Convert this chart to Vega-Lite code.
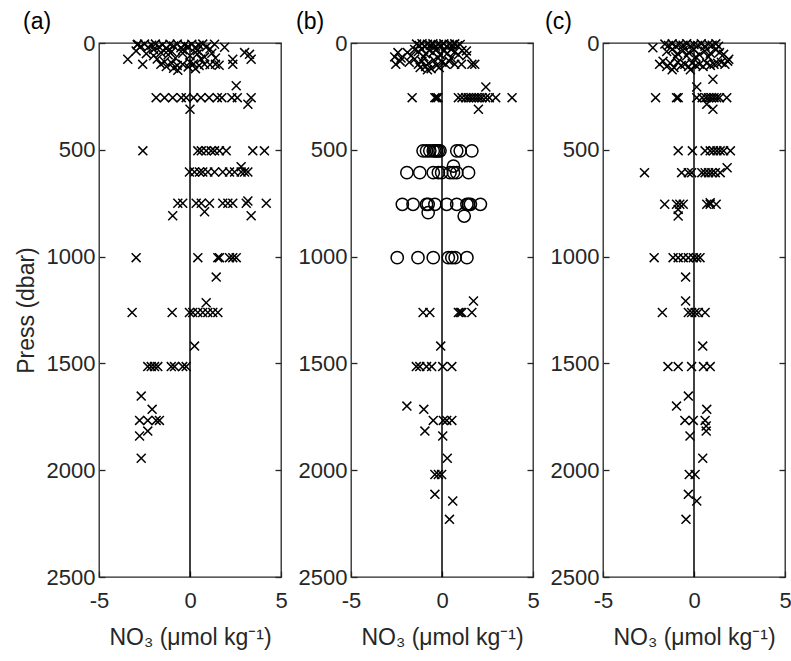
{
  "$schema": "https://vega.github.io/schema/vega-lite/v6.json",
  "background": "white",
  "padding": {"left": 14, "top": 10, "right": 4, "bottom": 4},
  "spacing": 70,
  "bounds": "flush",
  "config": {
    "font": "Liberation Sans",
    "view": {"stroke": "#262626", "strokeWidth": 1.3},
    "axis": {"grid": false, "domain": false, "labelFlush": false, "labelFont": "Liberation Sans", "labelFontSize": 22, "labelColor": "#262626", "titleFont": "Liberation Sans", "titleFontSize": 23, "titleFontWeight": "normal", "titleColor": "#262626", "tickColor": "#262626", "tickSize": -6, "tickWidth": 1.3, "labelExpr": "'' + datum.value"},
    "title": {"font": "Liberation Sans", "fontSize": 23, "fontWeight": "normal", "color": "black"}
  },
  "datasets": {
    "zero": [{"z": 0}],
    "pts": [
      {"p":"a","m":"x","x":-2.9,"y":8},{"p":"a","m":"x","x":-2.7,"y":15},{"p":"a","m":"x","x":-2.5,"y":5},{"p":"a","m":"x","x":-2.3,"y":20},{"p":"a","m":"x","x":-2.1,"y":10},{"p":"a","m":"x","x":-1.9,"y":5},{"p":"a","m":"x","x":-1.7,"y":18},{"p":"a","m":"x","x":-1.5,"y":8},{"p":"a","m":"x","x":-1.3,"y":25},{"p":"a","m":"x","x":-1.1,"y":6},{"p":"a","m":"x","x":-0.9,"y":14},{"p":"a","m":"x","x":-0.7,"y":5},{"p":"a","m":"x","x":-0.5,"y":22},{"p":"a","m":"x","x":-0.3,"y":9},{"p":"a","m":"x","x":-0.1,"y":16},{"p":"a","m":"x","x":0.1,"y":6},{"p":"a","m":"x","x":0.3,"y":20},{"p":"a","m":"x","x":0.5,"y":10},{"p":"a","m":"x","x":0.7,"y":5},{"p":"a","m":"x","x":0.9,"y":18},{"p":"a","m":"x","x":1.1,"y":28},{"p":"a","m":"x","x":-2.0,"y":30},{"p":"a","m":"x","x":-1.2,"y":35},{"p":"a","m":"x","x":-0.4,"y":32},{"p":"a","m":"x","x":0.4,"y":35},
      {"p":"a","m":"x","x":1.35,"y":6},{"p":"a","m":"x","x":1.9,"y":20},{"p":"a","m":"x","x":3.0,"y":45},{"p":"a","m":"x","x":3.27,"y":53},{"p":"a","m":"x","x":3.36,"y":76},{"p":"a","m":"x","x":2.35,"y":76},{"p":"a","m":"x","x":2.35,"y":100},{"p":"a","m":"x","x":-3.42,"y":76},{"p":"a","m":"x","x":-2.6,"y":100},{"p":"a","m":"x","x":-2.96,"y":37},{"p":"a","m":"x","x":-2.87,"y":6},
      {"p":"a","m":"x","x":-2.4,"y":50},{"p":"a","m":"x","x":-2.0,"y":60},{"p":"a","m":"x","x":-1.6,"y":45},{"p":"a","m":"x","x":-1.2,"y":55},{"p":"a","m":"x","x":-0.8,"y":70},{"p":"a","m":"x","x":-0.4,"y":48},{"p":"a","m":"x","x":0.0,"y":60},{"p":"a","m":"x","x":0.4,"y":52},{"p":"a","m":"x","x":0.8,"y":66},{"p":"a","m":"x","x":1.2,"y":48},{"p":"a","m":"x","x":-1.8,"y":75},{"p":"a","m":"x","x":-1.0,"y":40},{"p":"a","m":"x","x":0.6,"y":75},{"p":"a","m":"x","x":1.4,"y":70},
      {"p":"a","m":"x","x":-1.6,"y":100},{"p":"a","m":"x","x":-1.3,"y":110},{"p":"a","m":"x","x":-1.0,"y":95},{"p":"a","m":"x","x":-0.7,"y":105},{"p":"a","m":"x","x":-0.4,"y":100},{"p":"a","m":"x","x":-0.1,"y":112},{"p":"a","m":"x","x":0.2,"y":98},{"p":"a","m":"x","x":0.5,"y":105},{"p":"a","m":"x","x":0.8,"y":100},{"p":"a","m":"x","x":1.1,"y":102},{"p":"a","m":"x","x":1.4,"y":100},{"p":"a","m":"x","x":1.6,"y":104},{"p":"a","m":"x","x":-0.67,"y":128},{"p":"a","m":"x","x":-0.9,"y":118},{"p":"a","m":"x","x":0.3,"y":120},{"p":"a","m":"x","x":-1.4,"y":88},{"p":"a","m":"x","x":0.0,"y":90},
      {"p":"a","m":"x","x":-1.86,"y":256},{"p":"a","m":"x","x":-1.4,"y":256},{"p":"a","m":"x","x":-0.95,"y":256},{"p":"a","m":"x","x":-0.48,"y":256},{"p":"a","m":"x","x":-0.21,"y":256},{"p":"a","m":"x","x":0.2,"y":256},{"p":"a","m":"x","x":0.6,"y":256},{"p":"a","m":"x","x":1.05,"y":256},{"p":"a","m":"x","x":1.5,"y":256},{"p":"a","m":"x","x":1.75,"y":256},{"p":"a","m":"x","x":2.3,"y":256},{"p":"a","m":"x","x":2.6,"y":256},{"p":"a","m":"x","x":3.36,"y":256},{"p":"a","m":"x","x":2.54,"y":200},{"p":"a","m":"x","x":3.18,"y":287},{"p":"a","m":"x","x":0.0,"y":310},
      {"p":"a","m":"x","x":-2.59,"y":505},{"p":"a","m":"x","x":0.43,"y":505},{"p":"a","m":"x","x":0.62,"y":505},{"p":"a","m":"x","x":0.89,"y":505},{"p":"a","m":"x","x":1.16,"y":505},{"p":"a","m":"x","x":1.35,"y":505},{"p":"a","m":"x","x":1.62,"y":505},{"p":"a","m":"x","x":1.99,"y":505},{"p":"a","m":"x","x":3.45,"y":505},{"p":"a","m":"x","x":4.09,"y":505},
      {"p":"a","m":"x","x":-0.03,"y":604},{"p":"a","m":"x","x":0.25,"y":604},{"p":"a","m":"x","x":0.52,"y":604},{"p":"a","m":"x","x":0.7,"y":604},{"p":"a","m":"x","x":0.98,"y":604},{"p":"a","m":"x","x":1.35,"y":604},{"p":"a","m":"x","x":1.8,"y":604},{"p":"a","m":"x","x":2.17,"y":604},{"p":"a","m":"x","x":2.45,"y":604},{"p":"a","m":"x","x":2.81,"y":604},{"p":"a","m":"x","x":3.0,"y":604},{"p":"a","m":"x","x":3.18,"y":604},{"p":"a","m":"x","x":2.81,"y":579},
      {"p":"a","m":"x","x":-0.67,"y":750},{"p":"a","m":"x","x":-0.4,"y":750},{"p":"a","m":"x","x":0.34,"y":750},{"p":"a","m":"x","x":0.62,"y":750},{"p":"a","m":"x","x":1.07,"y":750},{"p":"a","m":"x","x":1.8,"y":750},{"p":"a","m":"x","x":2.08,"y":750},{"p":"a","m":"x","x":2.35,"y":750},{"p":"a","m":"x","x":3.09,"y":750},{"p":"a","m":"x","x":4.19,"y":750},{"p":"a","m":"x","x":-0.95,"y":809},{"p":"a","m":"x","x":0.8,"y":790},{"p":"a","m":"x","x":3.36,"y":809},{"p":"a","m":"x","x":3.18,"y":740},
      {"p":"a","m":"x","x":-2.96,"y":1005},{"p":"a","m":"x","x":0.43,"y":1005},{"p":"a","m":"x","x":1.53,"y":1005},{"p":"a","m":"x","x":1.62,"y":1005},{"p":"a","m":"x","x":2.17,"y":1005},{"p":"a","m":"x","x":2.35,"y":1005},{"p":"a","m":"x","x":2.54,"y":1005},{"p":"a","m":"x","x":1.44,"y":1096},
      {"p":"a","m":"x","x":0.89,"y":1216},{"p":"a","m":"x","x":-3.18,"y":1262},{"p":"a","m":"x","x":-0.98,"y":1262},{"p":"a","m":"x","x":-0.03,"y":1262},{"p":"a","m":"x","x":0.15,"y":1262},{"p":"a","m":"x","x":0.43,"y":1262},{"p":"a","m":"x","x":0.7,"y":1262},{"p":"a","m":"x","x":0.98,"y":1262},{"p":"a","m":"x","x":1.25,"y":1262},{"p":"a","m":"x","x":1.53,"y":1262},
      {"p":"a","m":"x","x":0.25,"y":1419},{"p":"a","m":"x","x":-2.32,"y":1515},{"p":"a","m":"x","x":-2.13,"y":1515},{"p":"a","m":"x","x":-1.95,"y":1515},{"p":"a","m":"x","x":-1.77,"y":1515},{"p":"a","m":"x","x":-1.03,"y":1515},{"p":"a","m":"x","x":-0.85,"y":1515},{"p":"a","m":"x","x":-0.4,"y":1515},{"p":"a","m":"x","x":-0.21,"y":1515},
      {"p":"a","m":"x","x":-2.68,"y":1653},{"p":"a","m":"x","x":-2.08,"y":1715},{"p":"a","m":"x","x":-2.77,"y":1767},{"p":"a","m":"x","x":-2.32,"y":1767},{"p":"a","m":"x","x":-1.86,"y":1767},{"p":"a","m":"x","x":-1.68,"y":1767},{"p":"a","m":"x","x":-2.32,"y":1817},{"p":"a","m":"x","x":-2.77,"y":1840},{"p":"a","m":"x","x":-2.68,"y":1944},

      {"p":"b","m":"x","x":-1.4,"y":5},{"p":"b","m":"x","x":-1.25,"y":12},{"p":"b","m":"x","x":-1.1,"y":3},{"p":"b","m":"x","x":-0.95,"y":15},{"p":"b","m":"x","x":-0.8,"y":6},{"p":"b","m":"x","x":-0.65,"y":10},{"p":"b","m":"x","x":-0.5,"y":4},{"p":"b","m":"x","x":-0.35,"y":14},{"p":"b","m":"x","x":-0.2,"y":7},{"p":"b","m":"x","x":-0.05,"y":12},{"p":"b","m":"x","x":0.1,"y":4},{"p":"b","m":"x","x":0.25,"y":15},{"p":"b","m":"x","x":0.4,"y":6},{"p":"b","m":"x","x":0.55,"y":10},{"p":"b","m":"x","x":0.7,"y":4},{"p":"b","m":"x","x":0.85,"y":13},{"p":"b","m":"x","x":1.0,"y":7},
      {"p":"b","m":"x","x":-1.9,"y":45},{"p":"b","m":"x","x":-1.5,"y":30},{"p":"b","m":"x","x":-1.3,"y":40},{"p":"b","m":"x","x":-1.1,"y":28},{"p":"b","m":"x","x":-0.9,"y":50},{"p":"b","m":"x","x":-0.7,"y":35},{"p":"b","m":"x","x":-0.5,"y":45},{"p":"b","m":"x","x":-0.3,"y":30},{"p":"b","m":"x","x":-0.1,"y":55},{"p":"b","m":"x","x":0.1,"y":38},{"p":"b","m":"x","x":0.3,"y":48},{"p":"b","m":"x","x":0.5,"y":30},{"p":"b","m":"x","x":0.7,"y":42},{"p":"b","m":"x","x":0.9,"y":55},{"p":"b","m":"x","x":1.1,"y":35},{"p":"b","m":"x","x":1.34,"y":37},{"p":"b","m":"x","x":-1.7,"y":60},{"p":"b","m":"x","x":1.36,"y":60},
      {"p":"b","m":"x","x":-2.42,"y":45},{"p":"b","m":"x","x":-2.54,"y":100},{"p":"b","m":"x","x":-2.25,"y":70},{"p":"b","m":"x","x":-2.6,"y":65},{"p":"b","m":"x","x":-2.3,"y":85},
      {"p":"b","m":"x","x":-1.8,"y":90},{"p":"b","m":"x","x":-1.5,"y":75},{"p":"b","m":"x","x":-1.3,"y":100},{"p":"b","m":"x","x":-1.1,"y":85},{"p":"b","m":"x","x":-0.9,"y":110},{"p":"b","m":"x","x":-0.75,"y":95},{"p":"b","m":"x","x":-0.6,"y":120},{"p":"b","m":"x","x":-0.45,"y":80},{"p":"b","m":"x","x":-0.3,"y":105},{"p":"b","m":"x","x":-0.15,"y":115},{"p":"b","m":"x","x":0.0,"y":90},{"p":"b","m":"x","x":-1.2,"y":115},{"p":"b","m":"x","x":-0.8,"y":125},{"p":"b","m":"x","x":0.2,"y":100},{"p":"b","m":"x","x":0.4,"y":85},{"p":"b","m":"x","x":0.7,"y":100},{"p":"b","m":"x","x":1.07,"y":100},{"p":"b","m":"x","x":1.64,"y":100},{"p":"b","m":"x","x":1.8,"y":100},{"p":"b","m":"x","x":0.5,"y":70},{"p":"b","m":"x","x":-0.2,"y":70},{"p":"b","m":"x","x":-1.0,"y":65},
      {"p":"b","m":"x","x":-1.64,"y":256},{"p":"b","m":"x","x":-0.39,"y":256},{"p":"b","m":"x","x":-0.31,"y":256},{"p":"b","m":"x","x":-0.22,"y":256},{"p":"b","m":"x","x":0.9,"y":256},{"p":"b","m":"x","x":1.1,"y":256},{"p":"b","m":"x","x":1.3,"y":256},{"p":"b","m":"x","x":1.45,"y":256},{"p":"b","m":"x","x":1.6,"y":256},{"p":"b","m":"x","x":1.75,"y":256},{"p":"b","m":"x","x":1.9,"y":256},{"p":"b","m":"x","x":2.05,"y":256},{"p":"b","m":"x","x":2.2,"y":256},{"p":"b","m":"x","x":2.4,"y":256},{"p":"b","m":"x","x":2.6,"y":256},{"p":"b","m":"x","x":2.95,"y":256},{"p":"b","m":"x","x":3.85,"y":256},{"p":"b","m":"x","x":2.41,"y":206},{"p":"b","m":"x","x":2.0,"y":310},
      {"p":"b","m":"o","x":-1.04,"y":505},{"p":"b","m":"o","x":-0.85,"y":505},{"p":"b","m":"o","x":-0.67,"y":505},{"p":"b","m":"o","x":-0.48,"y":505},{"p":"b","m":"o","x":-0.39,"y":505},{"p":"b","m":"o","x":-0.3,"y":505},{"p":"b","m":"o","x":-0.2,"y":505},{"p":"b","m":"o","x":-0.11,"y":505},{"p":"b","m":"o","x":0.81,"y":505},{"p":"b","m":"o","x":1.0,"y":505},{"p":"b","m":"o","x":1.64,"y":505},
      {"p":"b","m":"o","x":-1.93,"y":607},{"p":"b","m":"o","x":-1.22,"y":607},{"p":"b","m":"o","x":-0.48,"y":607},{"p":"b","m":"o","x":-0.2,"y":607},{"p":"b","m":"o","x":-0.02,"y":607},{"p":"b","m":"o","x":0.44,"y":607},{"p":"b","m":"o","x":0.63,"y":607},{"p":"b","m":"o","x":0.81,"y":607},{"p":"b","m":"o","x":1.46,"y":607},{"p":"b","m":"o","x":0.63,"y":576},
      {"p":"b","m":"o","x":-2.18,"y":755},{"p":"b","m":"o","x":-1.59,"y":755},{"p":"b","m":"o","x":-0.85,"y":755},{"p":"b","m":"o","x":-0.76,"y":755},{"p":"b","m":"o","x":-0.39,"y":755},{"p":"b","m":"o","x":0.26,"y":755},{"p":"b","m":"o","x":0.81,"y":755},{"p":"b","m":"o","x":1.37,"y":755},{"p":"b","m":"o","x":1.46,"y":755},{"p":"b","m":"o","x":1.56,"y":755},{"p":"b","m":"o","x":2.11,"y":755},{"p":"b","m":"o","x":-0.76,"y":794},{"p":"b","m":"o","x":1.22,"y":810},
      {"p":"b","m":"o","x":-2.46,"y":1005},{"p":"b","m":"o","x":-1.32,"y":1005},{"p":"b","m":"o","x":-0.48,"y":1005},{"p":"b","m":"o","x":0.35,"y":1005},{"p":"b","m":"o","x":0.54,"y":1005},{"p":"b","m":"o","x":0.72,"y":1005},{"p":"b","m":"o","x":1.37,"y":1005},
      {"p":"b","m":"x","x":1.73,"y":1208},{"p":"b","m":"x","x":-1.04,"y":1262},{"p":"b","m":"x","x":-0.67,"y":1262},{"p":"b","m":"x","x":0.9,"y":1262},{"p":"b","m":"x","x":1.0,"y":1262},{"p":"b","m":"x","x":1.09,"y":1262},{"p":"b","m":"x","x":1.64,"y":1262},
      {"p":"b","m":"x","x":-0.07,"y":1419},{"p":"b","m":"x","x":-1.41,"y":1515},{"p":"b","m":"x","x":-1.22,"y":1515},{"p":"b","m":"x","x":-0.85,"y":1515},{"p":"b","m":"x","x":-0.57,"y":1515},{"p":"b","m":"x","x":0.04,"y":1515},{"p":"b","m":"x","x":0.54,"y":1515},
      {"p":"b","m":"x","x":-1.93,"y":1700},{"p":"b","m":"x","x":-1.0,"y":1715},{"p":"b","m":"x","x":-0.48,"y":1767},{"p":"b","m":"x","x":0.07,"y":1767},{"p":"b","m":"x","x":0.26,"y":1767},{"p":"b","m":"x","x":0.54,"y":1767},{"p":"b","m":"x","x":-0.94,"y":1817},{"p":"b","m":"x","x":0.04,"y":1840},{"p":"b","m":"x","x":0.29,"y":1944},{"p":"b","m":"x","x":-0.39,"y":2020},{"p":"b","m":"x","x":-0.2,"y":2020},{"p":"b","m":"x","x":-0.02,"y":2020},{"p":"b","m":"x","x":-0.39,"y":2113},{"p":"b","m":"x","x":0.59,"y":2144},{"p":"b","m":"x","x":0.41,"y":2230},

      {"p":"c","m":"x","x":-1.6,"y":5},{"p":"c","m":"x","x":-1.4,"y":12},{"p":"c","m":"x","x":-1.2,"y":4},{"p":"c","m":"x","x":-1.0,"y":15},{"p":"c","m":"x","x":-0.8,"y":6},{"p":"c","m":"x","x":-0.6,"y":10},{"p":"c","m":"x","x":-0.4,"y":3},{"p":"c","m":"x","x":-0.2,"y":14},{"p":"c","m":"x","x":0.0,"y":7},{"p":"c","m":"x","x":0.2,"y":12},{"p":"c","m":"x","x":0.4,"y":4},{"p":"c","m":"x","x":0.6,"y":15},{"p":"c","m":"x","x":0.8,"y":6},{"p":"c","m":"x","x":1.0,"y":10},{"p":"c","m":"x","x":1.2,"y":4},{"p":"c","m":"x","x":1.35,"y":15},{"p":"c","m":"x","x":-2.26,"y":22},
      {"p":"c","m":"x","x":-1.5,"y":40},{"p":"c","m":"x","x":-1.2,"y":30},{"p":"c","m":"x","x":-0.9,"y":50},{"p":"c","m":"x","x":-0.6,"y":35},{"p":"c","m":"x","x":-0.3,"y":45},{"p":"c","m":"x","x":0.0,"y":30},{"p":"c","m":"x","x":0.3,"y":55},{"p":"c","m":"x","x":0.6,"y":38},{"p":"c","m":"x","x":0.9,"y":48},{"p":"c","m":"x","x":1.2,"y":32},{"p":"c","m":"x","x":1.63,"y":53},{"p":"c","m":"x","x":1.4,"y":45},{"p":"c","m":"x","x":-1.0,"y":65},{"p":"c","m":"x","x":0.1,"y":65},{"p":"c","m":"x","x":0.8,"y":65},{"p":"c","m":"x","x":-0.4,"y":60},
      {"p":"c","m":"x","x":-1.89,"y":100},{"p":"c","m":"x","x":-1.7,"y":85},{"p":"c","m":"x","x":-1.5,"y":110},{"p":"c","m":"x","x":-1.3,"y":95},{"p":"c","m":"x","x":-1.1,"y":115},{"p":"c","m":"x","x":-0.9,"y":90},{"p":"c","m":"x","x":-0.7,"y":105},{"p":"c","m":"x","x":-0.5,"y":100},{"p":"c","m":"x","x":-0.3,"y":110},{"p":"c","m":"x","x":-0.1,"y":95},{"p":"c","m":"x","x":0.1,"y":105},{"p":"c","m":"x","x":0.3,"y":100},{"p":"c","m":"x","x":0.5,"y":110},{"p":"c","m":"x","x":0.7,"y":95},{"p":"c","m":"x","x":0.9,"y":105},{"p":"c","m":"x","x":1.1,"y":100},{"p":"c","m":"x","x":1.3,"y":95},{"p":"c","m":"x","x":1.5,"y":90},{"p":"c","m":"x","x":1.91,"y":76},{"p":"c","m":"x","x":1.7,"y":100},{"p":"c","m":"x","x":-1.2,"y":125},{"p":"c","m":"x","x":-0.2,"y":125},{"p":"c","m":"x","x":1.85,"y":85},
      {"p":"c","m":"x","x":1.04,"y":170},{"p":"c","m":"x","x":0.15,"y":206},
      {"p":"c","m":"x","x":-2.11,"y":256},{"p":"c","m":"x","x":-0.96,"y":256},{"p":"c","m":"x","x":-0.87,"y":256},{"p":"c","m":"x","x":0.15,"y":256},{"p":"c","m":"x","x":0.45,"y":256},{"p":"c","m":"x","x":0.65,"y":256},{"p":"c","m":"x","x":0.8,"y":256},{"p":"c","m":"x","x":0.95,"y":256},{"p":"c","m":"x","x":1.1,"y":256},{"p":"c","m":"x","x":1.25,"y":256},{"p":"c","m":"x","x":1.4,"y":256},{"p":"c","m":"x","x":1.8,"y":256},{"p":"c","m":"x","x":0.7,"y":287},{"p":"c","m":"x","x":1.04,"y":310},
      {"p":"c","m":"x","x":-0.87,"y":505},{"p":"c","m":"x","x":-0.09,"y":505},{"p":"c","m":"x","x":0.61,"y":505},{"p":"c","m":"x","x":0.89,"y":505},{"p":"c","m":"x","x":1.07,"y":505},{"p":"c","m":"x","x":1.26,"y":505},{"p":"c","m":"x","x":1.44,"y":505},{"p":"c","m":"x","x":1.63,"y":505},{"p":"c","m":"x","x":2.0,"y":505},
      {"p":"c","m":"x","x":-2.72,"y":607},{"p":"c","m":"x","x":-0.68,"y":607},{"p":"c","m":"x","x":-0.31,"y":607},{"p":"c","m":"x","x":-0.13,"y":607},{"p":"c","m":"x","x":0.43,"y":607},{"p":"c","m":"x","x":0.61,"y":607},{"p":"c","m":"x","x":0.8,"y":607},{"p":"c","m":"x","x":0.98,"y":607},{"p":"c","m":"x","x":1.17,"y":607},{"p":"c","m":"x","x":1.44,"y":607},{"p":"c","m":"x","x":1.82,"y":584},
      {"p":"c","m":"x","x":-1.61,"y":755},{"p":"c","m":"x","x":-0.96,"y":755},{"p":"c","m":"x","x":-0.78,"y":755},{"p":"c","m":"x","x":-0.59,"y":755},{"p":"c","m":"x","x":0.7,"y":755},{"p":"c","m":"x","x":0.89,"y":755},{"p":"c","m":"x","x":1.22,"y":755},{"p":"c","m":"x","x":-0.87,"y":779},{"p":"c","m":"x","x":-0.87,"y":810},{"p":"c","m":"x","x":0.89,"y":748},
      {"p":"c","m":"x","x":-2.19,"y":1005},{"p":"c","m":"x","x":-1.15,"y":1005},{"p":"c","m":"x","x":-0.87,"y":1005},{"p":"c","m":"x","x":-0.59,"y":1005},{"p":"c","m":"x","x":-0.31,"y":1005},{"p":"c","m":"x","x":-0.04,"y":1005},{"p":"c","m":"x","x":0.15,"y":1005},{"p":"c","m":"x","x":0.33,"y":1005},{"p":"c","m":"x","x":-0.46,"y":1096},{"p":"c","m":"x","x":-0.46,"y":1208},
      {"p":"c","m":"x","x":-1.74,"y":1262},{"p":"c","m":"x","x":-0.31,"y":1262},{"p":"c","m":"x","x":-0.13,"y":1262},{"p":"c","m":"x","x":0.06,"y":1262},{"p":"c","m":"x","x":0.24,"y":1262},{"p":"c","m":"x","x":0.61,"y":1262},
      {"p":"c","m":"x","x":0.48,"y":1419},{"p":"c","m":"x","x":-1.43,"y":1515},{"p":"c","m":"x","x":-0.87,"y":1515},{"p":"c","m":"x","x":-0.13,"y":1515},{"p":"c","m":"x","x":0.52,"y":1515},{"p":"c","m":"x","x":0.89,"y":1515},
      {"p":"c","m":"x","x":-0.31,"y":1653},{"p":"c","m":"x","x":-0.96,"y":1700},{"p":"c","m":"x","x":0.7,"y":1715},{"p":"c","m":"x","x":-0.5,"y":1767},{"p":"c","m":"x","x":-0.04,"y":1767},{"p":"c","m":"x","x":0.61,"y":1767},{"p":"c","m":"x","x":0.67,"y":1793},{"p":"c","m":"x","x":0.67,"y":1817},{"p":"c","m":"x","x":-0.22,"y":1840},{"p":"c","m":"x","x":0.48,"y":1944},{"p":"c","m":"x","x":-0.26,"y":2020},{"p":"c","m":"x","x":0.06,"y":2020},{"p":"c","m":"x","x":-0.31,"y":2113},{"p":"c","m":"x","x":0.15,"y":2144},{"p":"c","m":"x","x":-0.44,"y":2230}
    ]
  },
  "hconcat": [
    {
      "width": 182, "height": 534,
      "view": {"stroke": "#262626", "strokeWidth": 1.3},
      "title": {"text": "(a)", "anchor": "start", "frame": "group", "dx": -76, "offset": -2},
      "resolve": {"axis": {"y": "independent"}},
      "layer": [
        {"data": {"name": "zero"}, "mark": {"type": "rule", "color": "black", "strokeWidth": 1.5},
         "encoding": {"x": {"field": "z", "type": "quantitative", "scale": {"domain": [-5, 5], "nice": false, "zero": false, "padding": 0}, "axis": {"values": [-5, 0, 5], "title": "NO₃ (μmol kg⁻¹)", "labelPadding": 19, "titlePadding": 15}}}},
        {"data": {"name": "pts"}, "transform": [{"filter": "datum.p === 'a'"}],
         "mark": {"type": "point", "filled": false, "stroke": "black", "strokeWidth": 1.5, "opacity": 1},
         "encoding": {
           "x": {"field": "x", "type": "quantitative", "scale": {"domain": [-5, 5], "nice": false, "zero": false, "padding": 0}},
           "y": {"field": "y", "type": "quantitative", "scale": {"domain": [0, 2500], "reverse": true, "nice": false, "zero": false, "padding": 0}, "axis": {"values": [0, 500, 1000, 1500, 2000, 2500], "title": "Press (dbar)", "labelPadding": 10, "titlePadding": 8}},
           "shape": {"field": "m", "type": "nominal", "scale": {"domain": ["x", "o"], "range": ["M-1,-1L1,1M-1,1L1,-1", "circle"]}, "legend": null},
           "size": {"field": "m", "type": "nominal", "scale": {"domain": ["x", "o"], "range": [80, 150]}, "legend": null}
         }},
        {"data": {"name": "pts"}, "transform": [{"filter": "datum.p === 'a'"}],
         "mark": {"type": "point", "opacity": 0},
         "encoding": {"y": {"field": "y", "type": "quantitative", "axis": {"orient": "right", "values": [0, 500, 1000, 1500, 2000, 2500], "labels": false, "title": null}}}}
      ]
    },
    {
      "width": 182, "height": 534,
      "view": {"stroke": "#262626", "strokeWidth": 1.3},
      "title": {"text": "(b)", "anchor": "start", "frame": "group", "dx": -55, "offset": -2},
      "resolve": {"axis": {"y": "independent"}},
      "layer": [
        {"data": {"name": "zero"}, "mark": {"type": "rule", "color": "black", "strokeWidth": 1.5},
         "encoding": {"x": {"field": "z", "type": "quantitative", "scale": {"domain": [-5, 5], "nice": false, "zero": false, "padding": 0}, "axis": {"values": [-5, 0, 5], "title": "NO₃ (μmol kg⁻¹)", "labelPadding": 19, "titlePadding": 15}}}},
        {"data": {"name": "pts"}, "transform": [{"filter": "datum.p === 'b'"}],
         "mark": {"type": "point", "filled": false, "stroke": "black", "strokeWidth": 1.5, "opacity": 1},
         "encoding": {
           "x": {"field": "x", "type": "quantitative", "scale": {"domain": [-5, 5], "nice": false, "zero": false, "padding": 0}},
           "y": {"field": "y", "type": "quantitative", "scale": {"domain": [0, 2500], "reverse": true, "nice": false, "zero": false, "padding": 0}, "axis": {"values": [0, 500, 1000, 1500, 2000, 2500], "title": null, "labelPadding": 10}},
           "shape": {"field": "m", "type": "nominal", "scale": {"domain": ["x", "o"], "range": ["M-1,-1L1,1M-1,1L1,-1", "circle"]}, "legend": null},
           "size": {"field": "m", "type": "nominal", "scale": {"domain": ["x", "o"], "range": [80, 150]}, "legend": null}
         }},
        {"data": {"name": "pts"}, "transform": [{"filter": "datum.p === 'b'"}],
         "mark": {"type": "point", "opacity": 0},
         "encoding": {"y": {"field": "y", "type": "quantitative", "axis": {"orient": "right", "values": [0, 500, 1000, 1500, 2000, 2500], "labels": false, "title": null}}}}
      ]
    },
    {
      "width": 182, "height": 534,
      "view": {"stroke": "#262626", "strokeWidth": 1.3},
      "title": {"text": "(c)", "anchor": "start", "frame": "group", "dx": -58, "offset": -2},
      "resolve": {"axis": {"y": "independent"}},
      "layer": [
        {"data": {"name": "zero"}, "mark": {"type": "rule", "color": "black", "strokeWidth": 1.5},
         "encoding": {"x": {"field": "z", "type": "quantitative", "scale": {"domain": [-5, 5], "nice": false, "zero": false, "padding": 0}, "axis": {"values": [-5, 0, 5], "title": "NO₃ (μmol kg⁻¹)", "labelPadding": 19, "titlePadding": 15}}}},
        {"data": {"name": "pts"}, "transform": [{"filter": "datum.p === 'c'"}],
         "mark": {"type": "point", "filled": false, "stroke": "black", "strokeWidth": 1.5, "opacity": 1},
         "encoding": {
           "x": {"field": "x", "type": "quantitative", "scale": {"domain": [-5, 5], "nice": false, "zero": false, "padding": 0}},
           "y": {"field": "y", "type": "quantitative", "scale": {"domain": [0, 2500], "reverse": true, "nice": false, "zero": false, "padding": 0}, "axis": {"values": [0, 500, 1000, 1500, 2000, 2500], "title": null, "labelPadding": 10}},
           "shape": {"field": "m", "type": "nominal", "scale": {"domain": ["x", "o"], "range": ["M-1,-1L1,1M-1,1L1,-1", "circle"]}, "legend": null},
           "size": {"field": "m", "type": "nominal", "scale": {"domain": ["x", "o"], "range": [80, 150]}, "legend": null}
         }},
        {"data": {"name": "pts"}, "transform": [{"filter": "datum.p === 'c'"}],
         "mark": {"type": "point", "opacity": 0},
         "encoding": {"y": {"field": "y", "type": "quantitative", "axis": {"orient": "right", "values": [0, 500, 1000, 1500, 2000, 2500], "labels": false, "title": null}}}}
      ]
    }
  ]
}
